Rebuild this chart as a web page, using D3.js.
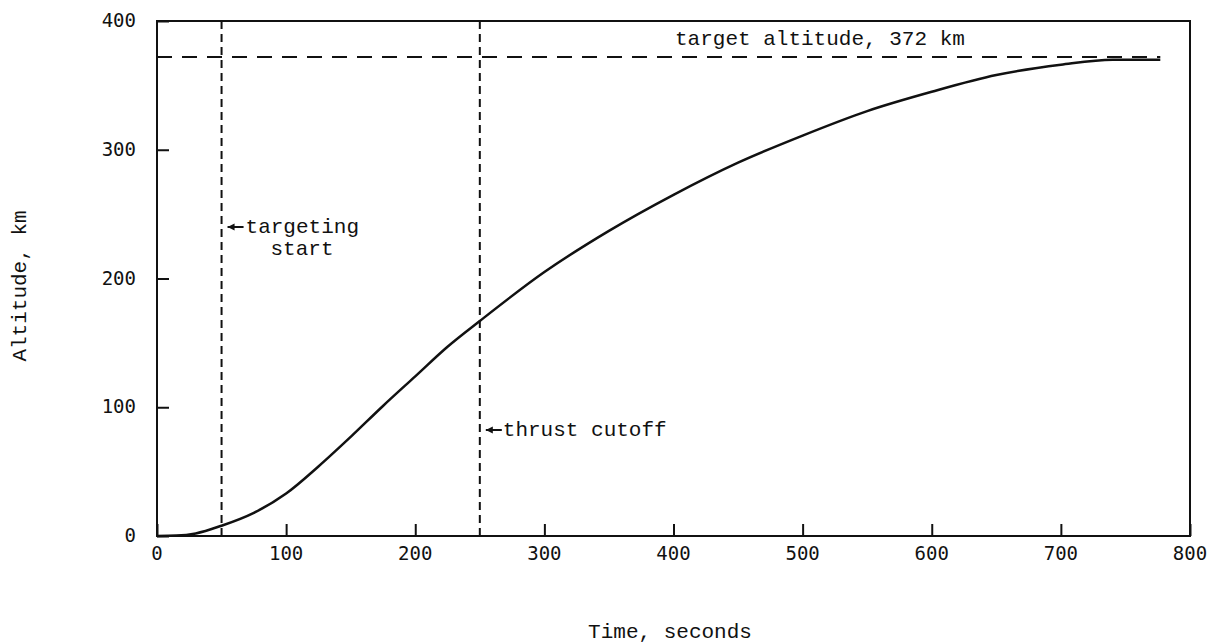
<!DOCTYPE html>
<html>
<head>
<meta charset="utf-8">
<script src="https://cdn.jsdelivr.net/npm/d3@7"></script>
<style>
  body { margin:0; background:#fff; }
  text { font-family: "Liberation Mono", "DejaVu Sans Mono", monospace; fill:#111; }
</style>
</head>
<body>
<svg></svg>
<script>
// altitude vs time
var times     = [0, 15, 30, 50, 75, 100, 125, 150, 175, 200, 225, 250, 300, 350, 400, 450, 500, 550, 600, 650, 700, 740, 777];
var altitudes = [0, 0.3, 2, 8, 18, 33, 54, 77, 101, 124, 147, 167, 205, 237, 265, 290, 311, 330, 345, 358, 366, 370, 370];
var xTicks = [0, 100, 200, 300, 400, 500, 600, 700, 800];
var yTicks = [0, 100, 200, 300, 400];
var targetAlt = 372;
var markers = [50, 250]; // targeting start, thrust cutoff

var drawGraph = function()
{
  var screen = { width:1223, height:644 };

  var svg = d3.select("svg")
              .attr("width", screen.width)
              .attr("height", screen.height);

  var plot = { left:157, right:1190, top:21, bottom:536 };

  var xScale = d3.scaleLinear()
                 .domain([0, 800])
                 .range([plot.left, plot.right]);

  var yScale = d3.scaleLinear()
                 .domain([0, 400])
                 .range([plot.bottom, plot.top]);

  // frame
  svg.append("rect")
     .attr("x", plot.left)
     .attr("y", plot.top)
     .attr("width", plot.right - plot.left)
     .attr("height", plot.bottom - plot.top)
     .attr("fill", "none")
     .attr("stroke", "#111")
     .attr("stroke-width", 2);

  // axes with inward ticks
  var xAxis = d3.axisTop(xScale).tickValues(xTicks).tickSize(12).tickFormat("");
  svg.append("g")
     .attr("transform", "translate(0," + plot.bottom + ")")
     .call(xAxis)
     .call(function(g) { g.select(".domain").remove(); })
     .selectAll("line").attr("stroke", "#111").attr("stroke-width", 2);

  svg.append("g")
     .selectAll("text")
     .data(xTicks)
     .enter()
     .append("text")
     .attr("x", function(d) { return xScale(d); })
     .attr("y", 560)
     .attr("text-anchor", "middle")
     .style("font-family", "'DejaVu Sans Mono', monospace")
     .style("font-size", "19px")
     .text(function(d) { return d; });

  var yAxis = d3.axisRight(yScale).tickValues(yTicks).tickSize(12).tickFormat("");
  svg.append("g")
     .attr("transform", "translate(" + plot.left + ",0)")
     .call(yAxis)
     .call(function(g) { g.select(".domain").remove(); })
     .selectAll("line").attr("stroke", "#111").attr("stroke-width", 2);

  svg.append("g")
     .selectAll("text")
     .data(yTicks)
     .enter()
     .append("text")
     .attr("x", 136)
     .attr("y", function(d) { return yScale(d) + 6; })
     .attr("text-anchor", "end")
     .style("font-family", "'DejaVu Sans Mono', monospace")
     .style("font-size", "19px")
     .text(function(d) { return d; });

  // target altitude line
  svg.append("line")
     .attr("x1", xScale(0))
     .attr("x2", xScale(777))
     .attr("y1", yScale(targetAlt))
     .attr("y2", yScale(targetAlt))
     .attr("stroke", "#111")
     .attr("stroke-width", 2)
     .attr("stroke-dasharray", "15,10");

  svg.append("text")
     .attr("x", 675)
     .attr("y", yScale(targetAlt) - 12)
     .style("font-size", "21px")
     .text("target altitude, 372 km");

  // vertical event lines
  svg.selectAll(".marker")
     .data(markers)
     .enter()
     .append("line")
     .classed("marker", true)
     .attr("x1", function(d) { return xScale(d); })
     .attr("x2", function(d) { return xScale(d); })
     .attr("y1", plot.top)
     .attr("y2", plot.bottom)
     .attr("stroke", "#111")
     .attr("stroke-width", 2)
     .attr("stroke-dasharray", "8,5");

  // the trajectory
  var line = d3.line()
               .x(function(d) { return xScale(d[0]); })
               .y(function(d) { return yScale(d[1]); })
               .curve(d3.curveMonotoneX);

  svg.append("path")
     .datum(d3.zip(times, altitudes))
     .attr("d", line)
     .attr("fill", "none")
     .attr("stroke", "#111")
     .attr("stroke-width", 2.5);

  // annotations
  var arrow = function(x, y)
  {
    svg.append("line")
       .attr("x1", x).attr("x2", x + 16)
       .attr("y1", y).attr("y2", y)
       .attr("stroke", "#111").attr("stroke-width", 2);
    svg.append("path")
       .attr("d", "M" + x + "," + y + " l7,-3.5 l0,7 z")
       .attr("fill", "#111");
  };

  arrow(xScale(markers[0]) + 6, 227);
  svg.append("text")
     .attr("x", xScale(markers[0]) + 24)
     .attr("y", 233)
     .style("font-size", "21px")
     .text("targeting");
  svg.append("text")
     .attr("x", 302)
     .attr("y", 255)
     .attr("text-anchor", "middle")
     .style("font-size", "21px")
     .text("start");

  arrow(xScale(markers[1]) + 6, 430);
  svg.append("text")
     .attr("x", xScale(markers[1]) + 23)
     .attr("y", 436)
     .style("font-size", "21px")
     .text("thrust cutoff");

  // axis titles
  svg.append("text")
     .attr("x", 670)
     .attr("y", 638)
     .attr("text-anchor", "middle")
     .style("font-size", "21px")
     .text("Time, seconds");

  svg.append("text")
     .attr("transform", "translate(26,286) rotate(-90)")
     .attr("text-anchor", "middle")
     .style("font-size", "21px")
     .text("Altitude, km");
}

drawGraph();
</script>
</body>
</html>
